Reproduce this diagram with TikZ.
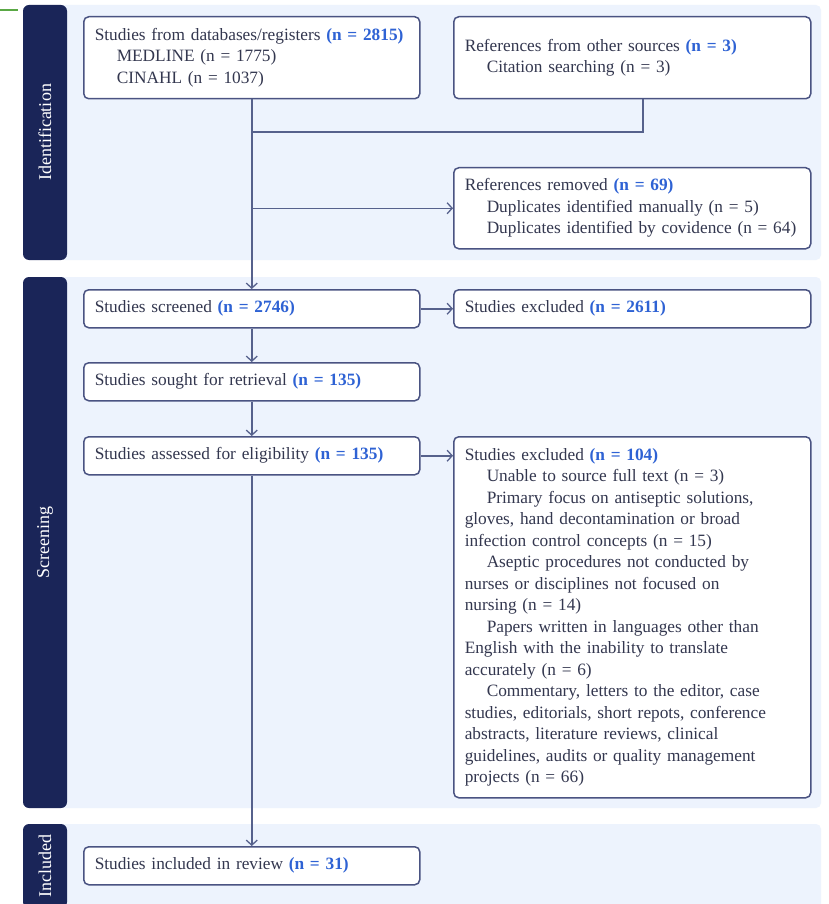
\documentclass[tikz,border=0pt]{standalone}
\usepackage{fontspec}
\setmainfont{Liberation Serif}
\usetikzlibrary{arrows.meta}
\definecolor{navy}{HTML}{1A2558}
\definecolor{bgc}{HTML}{EDF3FD}
\definecolor{boxc}{HTML}{4A5382}
\definecolor{linec}{HTML}{56618C}
\definecolor{txt}{HTML}{33374F}
\definecolor{blu}{HTML}{2E62D4}
\definecolor{grn}{HTML}{5AA845}
\newcommand{\nb}[1]{\textcolor{blu}{\textbf{#1}}}
\newcommand{\ind}{\hspace*{22pt}}
\newcommand{\mainfs}{\fontsize{17.3}{21.5}\selectfont}
\tikzset{
  box/.style={draw=boxc, line width=1.5pt, rounded corners=5pt, fill=white,
    anchor=north west, inner xsep=11pt, inner ysep=0pt, align=left,
    text=txt, font=\mainfs},
  lbox/.style={box, text width=314pt},
  rbox/.style={box, text width=335pt},
  band/.style={fill=navy, rounded corners=6pt},
  bgpanel/.style={fill=bgc, rounded corners=5pt},
  bandlabel/.style={rotate=90, text=white, font=\fontsize{18}{20}\selectfont},
  conn/.style={draw=linec, line width=1.5pt},
  arr/.style={conn, -{Straight Barb[length=5pt,width=11pt,line width=1.3pt]}}
}
\begin{document}
\begin{tikzpicture}[x=1pt,y=-1pt]
\useasboundingbox (0,0) rectangle (828,904);
\clip (0,0) rectangle (828,904);
\fill[white] (0,0) rectangle (828,904);
% green mark
\draw[grn, line width=2.5pt] (0,10) -- (18,10);
% panels
\fill[bgpanel] (60,5) rectangle (821,260);
\fill[bgpanel] (60,277) rectangle (821,808);
\fill[bgpanel] (60,824) rectangle (821,915);
\fill[band] (23,5) rectangle (67,260);
\fill[band] (23,277) rectangle (67,808);
\fill[band] (23,824) rectangle (67,908);
\node[bandlabel] (lid) at (45,132.5) {Identification};
\node[bandlabel] (lsc) at (45,542.5) {Screening};
\node[bandlabel] (lin) at (45,866) {Included};
% boxes
\node[lbox, minimum height=82pt] (db) at (83,16) {Studies from databases/registers \nb{(n = 2815)}\\
\ind MEDLINE (n = 1775)\\
\ind CINAHL (n = 1037)};
\node[rbox, minimum height=82pt] (other) at (453,16) {References from other sources \nb{(n = 3)}\\
\ind Citation searching (n = 3)};
\node[rbox, minimum height=81pt] (removed) at (453,167) {References removed \nb{(n = 69)}\\
\ind Duplicates identified manually (n = 5)\\
\ind \mbox{Duplicates identified by covidence (n = 64)}};
\node[lbox, minimum height=38pt] (screened) at (83,289) {Studies screened \nb{(n = 2746)}};
\node[rbox, minimum height=38pt] (excl1) at (453,289) {Studies excluded \nb{(n = 2611)}};
\node[lbox, minimum height=38pt] (sought) at (83,362) {Studies sought for retrieval \nb{(n = 135)}};
\node[lbox, minimum height=38pt] (assessed) at (83,436) {Studies assessed for eligibility \nb{(n = 135)}};
\node[rbox, minimum height=361pt] (excl2) at (453,436) {Studies excluded \nb{(n = 104)}\\
\ind Unable to source full text (n = 3)\\
\ind Primary focus on antiseptic solutions,\\
gloves, hand decontamination or broad\\
infection control concepts (n = 15)\\
\ind Aseptic procedures not conducted by\\
nurses or disciplines not focused on\\
nursing (n = 14)\\
\ind Papers written in languages other than\\
English with the inability to translate\\
accurately (n = 6)\\
\ind Commentary, letters to the editor, case\\
studies, editorials, short repots, conference\\
abstracts, literature reviews, clinical\\
guidelines, audits or quality management\\
projects (n = 66)};
\node[lbox, minimum height=38pt] (included) at (83,846) {Studies included in review \nb{(n = 31)}};
% connectors
\coordinate (j1) at (db.south |- 0,132);
\draw[arr] (db.south) -- (screened.north);
\draw[conn] (j1) -| ([xshift=190pt]other.south west);
\draw[arr] (removed.west -| db.south) -- (removed.west);
\draw[arr] (screened.east) -- (excl1.west);
\draw[arr] (screened.south) -- (sought.north);
\draw[arr] (sought.south) -- (assessed.north);
\draw[arr] (assessed.east) -- (assessed.east -| excl2.west);
\draw[arr] (assessed.south) -- (included.north);
\end{tikzpicture}
\end{document}
